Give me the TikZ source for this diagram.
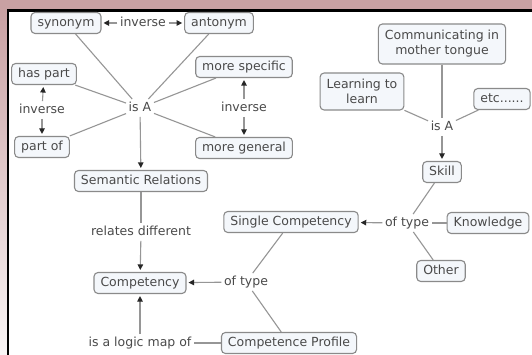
\documentclass[tikz,border=0pt]{standalone}
\usepackage{fontspec}
\setmainfont{DejaVu Sans}
\usetikzlibrary{arrows.meta,shadings}
\definecolor{pinkbg}{HTML}{C9A1A3}
\definecolor{boxfill}{HTML}{F4F7FB}
\definecolor{boxdraw}{HTML}{8A8A8A}
\definecolor{txt}{HTML}{4A4A4A}
\definecolor{lnc}{HTML}{969696}
\begin{document}
\begin{tikzpicture}[x=1pt,y=-1pt,
  concept/.style={draw=boxdraw, fill=boxfill, rounded corners=4pt, line width=1.1pt, text=txt,
    font=\fontsize{12.5}{15}\selectfont, inner xsep=6.5pt, inner ysep=4.25pt, text height=9.5pt, text depth=3pt},
  concepttwo/.style={draw=boxdraw, fill=boxfill, rounded corners=4pt, line width=1.1pt, text=txt,
    font=\fontsize{12.5}{15}\selectfont, inner xsep=6.5pt, inner ysep=4.25pt, align=center},
  phrase/.style={fill=white, text=txt, font=\fontsize{12.5}{15}\selectfont, inner sep=2.5pt, text height=9.5pt, text depth=3pt},
  ln/.style={draw=lnc, line width=1.1pt},
  arr/.style={ln, -{Triangle[length=5.5pt,width=5.5pt,color=black!85]}, shorten >=2pt}
]
\useasboundingbox (0,0) rectangle (532,355);
% frame
\fill[pinkbg] (0,0) rectangle (532,355);
\shade[top color=pinkbg, bottom color=pinkbg!10] (0,10) rectangle (8,355);
\fill[white] (8,10) rectangle (532,355);
\draw[black, line width=2.5pt] (8,355) -- (8,10.5) -- (532,10.5);

% left cluster
\node[concept] (synonym) at (66,23) {synonym};
\node[concept] (antonym) at (219,23) {antonym};
\node[phrase] (invT) at (143,23) {inverse};
\node[concept] (haspart) at (44,74) {has part};
\node[phrase] (invL) at (42,110) {inverse};
\node[concept] (partof) at (42,147) {part of};
\node[phrase] (isAL) at (140,108) {is A};
\node[concept] (morespec) at (244,67) {more specific};
\node[phrase] (invR) at (244,108) {inverse};
\node[concept] (moregen) at (244,148) {more general};
\node[concept] (semrel) at (141,181) {Semantic Relations};
\node[phrase] (relates) at (141,232) {relates different};
\node[concept] (comp) at (140,283) {Competency};
\node[phrase] (ofTypeM) at (246,282) {of type};
\node[phrase] (logic) at (140,343) {is a logic map of};
\node[concept] (profile) at (289,343) {Competence Profile};
\node[concept] (single) at (291,222) {Single Competency};
% right cluster
\node[phrase] (ofTypeR) at (407,223) {of type};
\node[concept] (knowledge) at (488,223) {Knowledge};
\node[concept] (other) at (441,271) {Other};
\node[concept] (skill) at (442,172) {Skill};
\node[phrase] (isAR) at (442,127) {is A};
\node[concepttwo, minimum height=40pt] (comm) at (442,44) {Communicating in\\mother tongue};
\node[concepttwo, minimum height=37pt] (learn) at (362,91.5) {Learning to\\learn};
\node[concept] (etc) at (502,99) {etc......};

% connectors
\draw[arr] (invT) -- (synonym);
\draw[arr] (invT) -- (antonym);
\draw[arr] (invL) -- (haspart);
\draw[arr] (invL) -- (partof);
\draw[arr] (invR) -- (morespec);
\draw[arr] (invR) -- (moregen);
\draw[ln] (synonym) -- (isAL);
\draw[ln] (antonym) -- (isAL);
\draw[ln] (haspart) -- (isAL);
\draw[ln] (partof) -- (isAL);
\draw[ln] (morespec) -- (isAL);
\draw[ln] (moregen) -- (isAL);
\draw[arr] (isAL) -- (semrel);
\draw[ln] (semrel) -- (relates);
\draw[arr] (relates) -- (comp);
\draw[ln] (profile) -- (logic);
\draw[arr] (logic) -- (comp);
\draw[ln] (single) -- (ofTypeM);
\draw[ln] (profile) -- (ofTypeM);
\draw[arr] (ofTypeM) -- (comp);
\draw[ln] (comm) -- (isAR);
\draw[ln] (learn) -- (isAR);
\draw[ln] (etc) -- (isAR);
\draw[arr] (isAR) -- (skill);
\draw[ln] (skill) -- (ofTypeR);
\draw[ln] (knowledge) -- (ofTypeR);
\draw[ln] (other) -- (ofTypeR);
\draw[arr] (ofTypeR) -- (single);
\end{tikzpicture}
\end{document}
